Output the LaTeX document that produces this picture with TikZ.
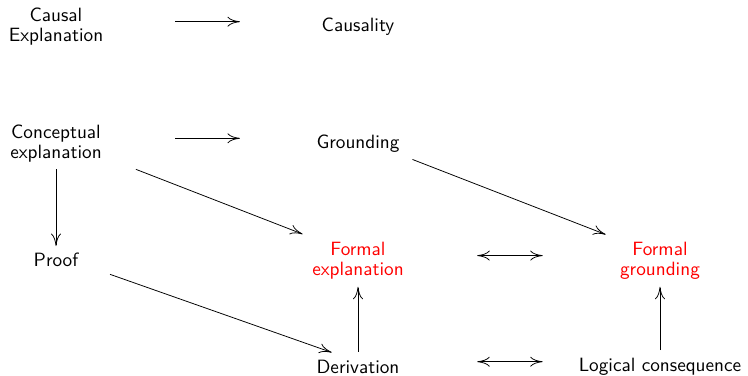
\documentclass[tikz,border=0pt]{standalone}
\usepackage{fontspec}
\usetikzlibrary{arrows.meta}
\begin{document}
\begin{tikzpicture}[x=0.52pt,y=-0.52pt,
  lbl/.style={font=\fontsize{10pt}{10.6pt}\selectfont\sffamily, align=center, inner sep=0pt},
  formal/.style={lbl, text=red},
  tip/.tip={To[length=6.5pt,width=5.2pt]},
  arr/.style={line width=0.4pt, -tip},
  biarr/.style={line width=0.4pt, tip-tip}]
\useasboundingbox (0,0) rectangle (748,376);
% nodes (placed 5px below the connection centres)
\node[lbl]    (ce)    at (56,26.7)   {Causal\\Explanation};
\node[lbl]    (caus)  at (358,26.7)  {Causality};
\node[lbl]    (conc)  at (56,143.3)  {Conceptual\\explanation};
\node[lbl]    (grd)   at (358,143.3) {Grounding};
\node[formal] (fe)    at (358,260.6) {Formal\\explanation};
\node[formal] (fg)    at (660,260.6) {Formal\\grounding};
\node[lbl]    (proof) at (56,260.3)  {Proof};
\node[lbl]    (der)   at (358,366.7) {Derivation};
\node[lbl]    (lc)    at (660,366.7) {Logical consequence};
% connectors
\draw[arr, shorten <=61.9pt, shorten >=61.4pt] ([yshift=2.6pt]ce.center) -- ([yshift=2.6pt]caus.center);
\draw[arr, shorten <=61.9pt, shorten >=61.4pt] ([yshift=2.6pt]conc.center) -- ([yshift=2.6pt]grd.center);
\draw[arr, shorten <=16.1pt, shorten >=4.8pt] ([yshift=2.6pt]conc.center) -- ([yshift=2.6pt]proof.center);
\draw[arr, shorten <=44.6pt, shorten >=30.9pt] ([yshift=2.6pt]conc.center) -- ([yshift=2.6pt]fe.center);
\draw[arr, shorten <=30.4pt, shorten >=30.3pt] ([yshift=2.6pt]grd.center) -- ([yshift=2.6pt]fg.center);
\draw[arr, shorten <=29.8pt, shorten >=14.5pt] ([yshift=2.6pt]proof.center) -- ([yshift=2.6pt]der.center);
\draw[arr, shorten <=5.2pt, shorten >=16.2pt] ([yshift=2.6pt]der.center) -- ([yshift=2.6pt]fe.center);
\draw[arr, shorten <=6pt, shorten >=16.2pt] ([yshift=2.6pt]lc.center) -- ([yshift=2.6pt]fg.center);
\draw[biarr, shorten <=62pt, shorten >=61pt] ([yshift=2.6pt]fe.center) -- ([yshift=2.6pt]fg.center);
\draw[biarr, shorten <=62pt, shorten >=61pt] ([yshift=2.6pt]der.center) -- ([yshift=2.6pt]lc.center);
\end{tikzpicture}
\end{document}
